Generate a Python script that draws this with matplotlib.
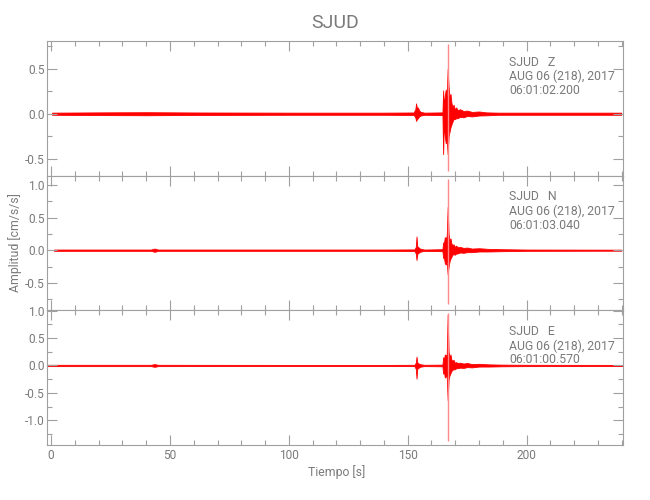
import matplotlib
matplotlib.use("Agg")
import matplotlib.pyplot as plt
from matplotlib.ticker import MultipleLocator, FormatStrFormatter

# envelope keypoints: time [s], upper and lower amplitude [cm/s/s]
z_t = [0.4, 20, 40, 60, 100, 140, 152.5, 153.2, 153.5, 153.9, 154.3, 154.8, 155.5, 157,
       164.6, 164.9, 165.2, 165.6, 166.0, 166.4, 166.8, 167.2, 167.6, 168.0, 168.4, 168.8,
       169.3, 169.8, 170.4, 171, 172, 173.5, 175, 177, 180, 183, 188, 200, 239.8]
z_hi = [0.012, 0.015, 0.017, 0.014, 0.012, 0.012, 0.014, 0.05, 0.115, 0.06, 0.07, 0.035, 0.02, 0.012,
        0.015, 0.26, 0.08, 0.2, 0.27, 0.2, 0.5, 0.3, 0.18, 0.22, 0.12, 0.08,
        0.1, 0.05, 0.07, 0.04, 0.05, 0.03, 0.035, 0.02, 0.025, 0.015, 0.012, 0.012, 0.012]
z_lo = [-0.012, -0.015, -0.017, -0.014, -0.012, -0.012, -0.014, -0.04, -0.08, -0.06, -0.05, -0.03, -0.02, -0.012,
        -0.015, -0.45, -0.1, -0.25, -0.33, -0.3, -0.45, -0.25, -0.2, -0.15, -0.12, -0.09,
        -0.06, -0.06, -0.05, -0.05, -0.035, -0.04, -0.025, -0.03, -0.02, -0.018, -0.012, -0.012, -0.012]

n_t = [1.2, 30, 42, 43.5, 45, 100, 140, 152.8, 153.4, 153.7, 154.0, 154.4, 154.9, 155.6, 157,
       164.6, 164.9, 165.2, 165.6, 166.0, 166.4, 166.8, 167.2, 167.6, 168.0, 168.4, 168.8,
       169.3, 169.8, 170.4, 171, 172, 173.5, 175, 177, 180, 184, 190, 200, 239.8]
n_hi = [0.01, 0.01, 0.01, 0.025, 0.01, 0.01, 0.01, 0.012, 0.05, 0.21, 0.06, 0.05, 0.03, 0.02, 0.01,
        0.015, 0.12, 0.1, 0.2, 0.17, 0.22, 0.66, 0.25, 0.15, 0.18, 0.1, 0.08,
        0.09, 0.05, 0.07, 0.045, 0.05, 0.035, 0.04, 0.025, 0.03, 0.02, 0.015, 0.01, 0.008]
n_lo = [-0.01, -0.01, -0.01, -0.025, -0.01, -0.01, -0.01, -0.012, -0.05, -0.15, -0.06, -0.045, -0.03, -0.02, -0.01,
        -0.015, -0.12, -0.1, -0.2, -0.22, -0.18, -0.37, -0.25, -0.17, -0.13, -0.1, -0.07,
        -0.06, -0.07, -0.05, -0.05, -0.035, -0.04, -0.03, -0.03, -0.02, -0.02, -0.015, -0.01, -0.008]

e_t = [-1.6, 30, 42, 43.5, 45, 100, 140, 152.8, 153.4, 153.7, 154.0, 154.4, 154.9, 155.6, 157,
       164.6, 164.9, 165.2, 165.6, 166.0, 166.4, 166.8, 167.2, 167.6, 168.0, 168.4, 168.8,
       169.3, 169.8, 170.4, 171, 172, 173.5, 175, 177, 180, 184, 190, 200, 240.7]
e_hi = [0.012, 0.012, 0.012, 0.025, 0.012, 0.01, 0.01, 0.012, 0.05, 0.16, 0.06, 0.04, 0.03, 0.02, 0.012,
        0.015, 0.15, 0.1, 0.2, 0.18, 0.2, 0.93, 0.25, 0.16, 0.2, 0.1, 0.09,
        0.1, 0.05, 0.06, 0.045, 0.05, 0.035, 0.045, 0.025, 0.03, 0.02, 0.015, 0.012, 0.01]
e_lo = [-0.012, -0.012, -0.012, -0.025, -0.012, -0.01, -0.01, -0.012, -0.06, -0.24, -0.06, -0.05, -0.03, -0.02, -0.012,
        -0.015, -0.15, -0.1, -0.22, -0.2, -0.2, -0.63, -0.25, -0.18, -0.14, -0.1, -0.08,
        -0.07, -0.07, -0.05, -0.05, -0.04, -0.045, -0.03, -0.035, -0.02, -0.02, -0.015, -0.012, -0.01]

# single-sample peak of each trace (drawn thin and light)
spike_t = [166.8, 166.8, 166.8]
spike_hi = [0.78, 1.09, 0.96]
spike_lo = [-0.64, -0.83, -1.38]

channels = ["Z", "N", "E"]
start_times = ["06:01:02.200", "06:01:03.040", "06:01:00.570"]
ylims = [(-0.69, 0.81), (-0.92, 1.14), (-1.45, 1.005)]

traces = [(z_t, z_hi, z_lo), (n_t, n_hi, n_lo), (e_t, e_hi, e_lo)]

txt = "#7a7a7a"
ax_col = "#a0a0a0"
plt.rcParams["font.family"] = ["Roboto", "DejaVu Sans"]

fig = plt.figure(figsize=(6.5, 5), dpi=100)
gs = fig.add_gridspec(3, 1, left=0.0728, right=0.959, top=0.918, bottom=0.11, hspace=0)

for i in range(3):
    ax = fig.add_subplot(gs[i])
    t, hi, lo = traces[i]
    ax.fill_between(t, lo, hi, color="#ff0000", lw=0.6)
    ax.vlines(spike_t[i], spike_lo[i], spike_hi[i], color="#ff8888", lw=1.0)

    ax.set_xlim(-1.6, 240.7)
    ax.set_ylim(*ylims[i])
    ax.xaxis.set_major_locator(MultipleLocator(50))
    ax.xaxis.set_minor_locator(MultipleLocator(10))
    ax.yaxis.set_major_locator(MultipleLocator(0.5))
    ax.yaxis.set_minor_locator(MultipleLocator(0.25))
    ax.yaxis.set_major_formatter(FormatStrFormatter("%.1f"))
    ax.tick_params(which="both", direction="in", top=True, right=True, color=ax_col,
                   labelcolor=txt, labelsize=8.6, width=0.8)
    ax.tick_params(which="major", length=7.5)
    ax.tick_params(which="minor", length=3.6)
    ax.tick_params(axis="y", pad=2)
    ax.tick_params(axis="x", pad=3)
    for s in ax.spines.values():
        s.set_color(ax_col)
        s.set_linewidth(0.8)
    if i < 2:
        ax.tick_params(labelbottom=False)

    # station label block, line centres measured in px from the panel top
    for off, line in zip([21, 35.5, 49.5],
                         ["SJUD   " + channels[i], "AUG 06 (218), 2017", start_times[i]]):
        ax.annotate(line, xy=(0.802, 1), xycoords="axes fraction",
                    xytext=(0, -off * 0.72), textcoords="offset points",
                    va="center", ha="left", fontsize=8.8, color=txt)

fig.text(0.515, 1 - 23 / 500, "SJUD", ha="center", va="center", fontsize=14, color=txt)
fig.text(14.6 / 650, 1 - 243 / 500, "Amplitud [cm/s/s]", rotation=90,
         ha="center", va="center", fontsize=8.8, color=txt)
fig.text(337 / 650, 1 - 472 / 500, "Tiempo [s]", ha="center", va="center", fontsize=8.8, color=txt)

fig.savefig("out.png", dpi=100)
